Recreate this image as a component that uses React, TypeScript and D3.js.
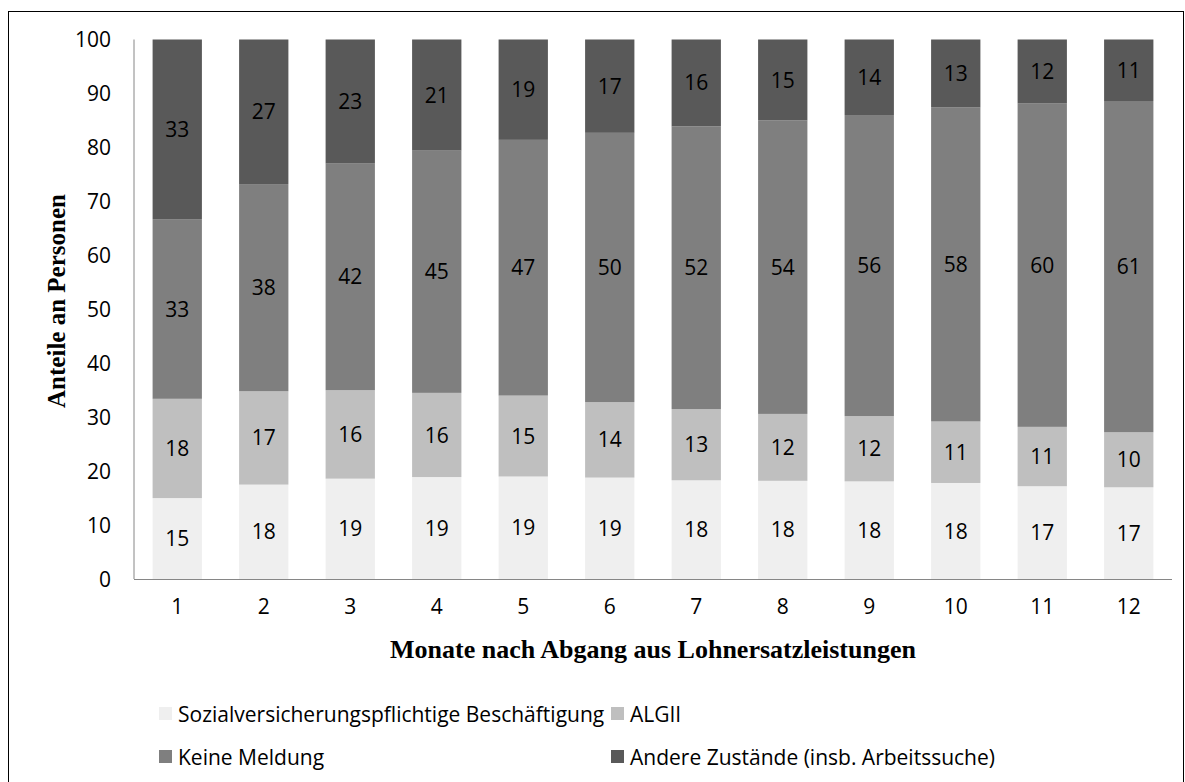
import React from "react";
import * as d3 from "d3";

const months = ["1", "2", "3", "4", "5", "6", "7", "8", "9", "10", "11", "12"];
const employment = [15.0, 17.5, 18.6, 18.9, 19.0, 18.8, 18.3, 18.2, 18.1, 17.8, 17.2, 17.0];
const algII = [18.4, 17.3, 16.4, 15.6, 15.0, 14.0, 13.2, 12.4, 12.1, 11.4, 11.0, 10.2];
const noReport = [33.3, 38.4, 42.0, 44.9, 47.4, 49.9, 52.4, 54.4, 55.8, 58.2, 60.0, 61.4];
const other = [33.3, 26.8, 23.0, 20.6, 18.6, 17.3, 16.1, 15.0, 14.0, 12.6, 11.8, 11.4];
const yTicks = [0, 10, 20, 30, 40, 50, 60, 70, 80, 90, 100];

const seriesNames = [
  "Sozialversicherungspflichtige Beschäftigung",
  "ALGII",
  "Keine Meldung",
  "Andere Zustände (insb. Arbeitssuche)",
];
const seriesKeys = ["emp", "alg", "none", "other"];
const colors = ["#EFEFEF", "#BFBFBF", "#7F7F7F", "#595959"];

const W = 1185;
const H = 782;
const FONT = "'Open Sans', sans-serif";
const SERIF = "'Liberation Serif', serif";
const FS = 21;

export default function App() {
  const rows = months.map((m, i) => ({
    month: m,
    emp: employment[i],
    alg: algII[i],
    none: noReport[i],
    other: other[i],
  }));
  const stacked = d3.stack<any>().keys(seriesKeys)(rows);

  const x = d3
    .scaleBand()
    .domain(months)
    .range([134, 1172])
    .paddingInner(0.43)
    .paddingOuter(0.215);
  const y = d3.scaleLinear().domain([0, 100]).range([579, 39.5]);

  const legendItems = [
    { name: seriesNames[0], color: colors[0], x: 159, y: 714 },
    { name: seriesNames[1], color: colors[1], x: 611, y: 714 },
    { name: seriesNames[2], color: colors[2], x: 159, y: 757 },
    { name: seriesNames[3], color: colors[3], x: 611, y: 757 },
  ];

  return (
    <svg
      width={W}
      height={H}
      style={{ position: "absolute", left: 0, top: 0, background: "#fff" }}
      fontFamily={FONT}
    >
      <rect x={0} y={0} width={W} height={H} fill="#fff" />
      <rect x={8.5} y={11.5} width={1175} height={790} fill="none" stroke="#000" strokeWidth={1} />

      {stacked.map((layer, si) => (
        <g key={seriesKeys[si]}>
          {layer.map((d: any, i: number) => {
            const x0 = x(months[i]) as number;
            const yTop = y(d[1]);
            const yBot = y(d[0]);
            return (
              <g key={i}>
                <rect x={x0} y={yTop} width={x.bandwidth()} height={yBot - yTop} fill={colors[si]} />
                <text
                  x={x0 + x.bandwidth() / 2}
                  y={(yTop + yBot) / 2}
                  dy="0.36em"
                  textAnchor="middle"
                  fontSize={FS}
                  fill="#000"
                >
                  {Math.round(d[1] - d[0])}
                </text>
              </g>
            );
          })}
        </g>
      ))}

      {/* axes */}
      <line x1={134} x2={134} y1={39.5} y2={579} stroke="#868686" strokeWidth={1} />
      <line x1={134} x2={1172} y1={579.5} y2={579.5} stroke="#868686" strokeWidth={1} />

      {yTicks.map((t) => (
        <text key={t} x={111} y={y(t)} dy="0.36em" textAnchor="end" fontSize={FS} fill="#000">
          {t}
        </text>
      ))}
      {months.map((m) => (
        <text
          key={m}
          x={(x(m) as number) + x.bandwidth() / 2}
          y={606}
          dy="0.36em"
          textAnchor="middle"
          fontSize={FS}
          fill="#000"
        >
          {m}
        </text>
      ))}

      <text
        x={653}
        y={658}
        textAnchor="middle"
        fontFamily={SERIF}
        fontWeight="bold"
        fontSize={26}
        fill="#000"
      >
        Monate nach Abgang aus Lohnersatzleistungen
      </text>
      <text
        transform="translate(65,301) rotate(-90)"
        textAnchor="middle"
        fontFamily={SERIF}
        fontWeight="bold"
        fontSize={25}
        fill="#000"
      >
        Anteile an Personen
      </text>

      {legendItems.map((l) => (
        <g key={l.name}>
          <rect x={l.x} y={l.y - 7} width={13} height={13} fill={l.color} />
          <text x={l.x + 19} y={l.y} dy="0.36em" fontSize={FS} fill="#000">
            {l.name}
          </text>
        </g>
      ))}
    </svg>
  );
}
